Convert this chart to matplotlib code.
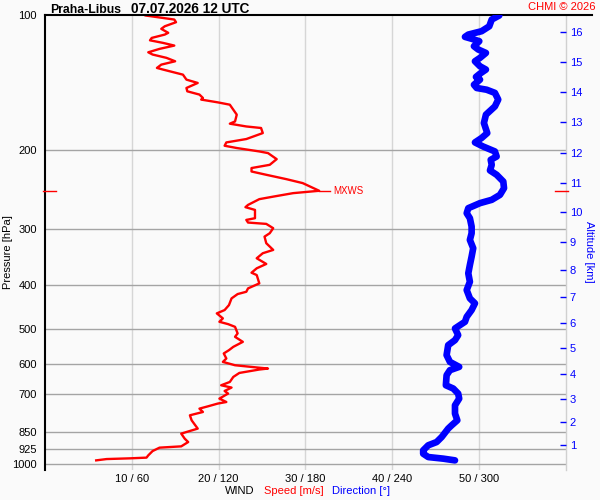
import matplotlib
matplotlib.use("Agg")
import matplotlib.pyplot as plt
from matplotlib.ticker import NullLocator

plt.rcParams["font.family"] = ["Liberation Sans", "DejaVu Sans"]

# perfil de velocidade do vento (hPa, m/s)
speed_p = [100, 102.1, 103.5, 105.7, 107.1, 109.3, 110.3, 112.2, 113.6, 115.1,
           116.7, 118.7, 120.8, 122.2, 124.3, 126.5, 128.7, 130.9, 132.0, 135.5,
           139.0, 141.4, 145.1, 147.6, 150.1, 152.7, 154.0, 156.2, 158.1, 162.2,
           166.4, 172.3, 174.3, 176.8, 178.2, 182.9, 188.6, 191.9, 195.2, 197.5,
           201.0, 202.7, 209.1, 215.3, 218.9, 222.8, 226.6, 231.7, 236.5, 246.0,
           249.0, 253.5, 256.8, 264.5, 267.6, 271.4, 283.2, 285.7, 289.6, 291.6,
           298.1, 305.9, 311.3, 322.0, 333.3, 339.0, 347.9, 358.2, 366.3, 374.7,
           379.2, 395.8, 406.1, 413.2, 418.1, 427.5, 442.5, 453.9, 461.7, 473.7,
           482.1, 487.9, 494.7, 511.7, 520.8, 534.4, 548.3, 557.7, 567.2, 582.1,
           592.4, 602.6, 609.5, 612.9, 616.0, 626.9, 639.9, 656.6, 667.9, 675.8,
           687.7, 697.0, 715.2, 727.8, 733.8, 744.0, 753.0, 766.1, 779.2, 799.6,
           834.4, 849.1, 856.2, 878.5, 894.0, 914.0, 920.1, 936.3, 957.3, 968.5,
           972.0, 975.6, 982.2]
speed_v = [11.6, 14.9, 15.1, 13.8, 13.4, 14.2, 13.8, 12.3, 12.1, 13.6,
           14.9, 13.2, 11.9, 12.4, 14.0, 15.0, 13.4, 12.9, 13.6, 15.9,
           16.3, 17.6, 16.3, 16.4, 17.8, 18.2, 18.0, 19.9, 21.3, 21.7,
           22.1, 21.9, 21.3, 23.2, 24.9, 25.1, 23.2, 20.9, 20.7, 22.1,
           24.7, 25.7, 26.7, 25.9, 23.8, 23.8, 25.5, 27.8, 29.7, 31.6,
           28.6, 26.3, 24.7, 23.4, 23.1, 24.2, 24.2, 23.2, 23.4, 25.5,
           26.3, 25.9, 25.3, 25.5, 26.3, 25.1, 24.4, 25.5, 24.4, 23.8,
           24.4, 24.7, 23.4, 23.2, 22.2, 21.5, 21.2, 20.7, 19.8, 20.5,
           20.1, 21.1, 21.9, 22.2, 21.9, 22.8, 21.7, 21.2, 20.6, 20.9,
           20.5, 21.9, 24.4, 25.7, 24.7, 22.4, 21.7, 21.3, 20.3, 21.5,
           20.7, 21.1, 20.1, 20.9, 19.9, 18.8, 17.8, 18.2, 16.7, 16.9,
           17.6, 16.3, 15.7, 16.1, 16.5, 15.7, 13.2, 12.4, 11.9, 11.7,
           9.8, 7.1, 5.9]

# perfil de direcao do vento (hPa, graus)
dir_p = [100, 102.1, 105.7, 108.4, 110.3, 111.6, 112.7, 114.1, 117.1, 119.1,
         121.2, 124.3, 126.5, 129.8, 132.0, 134.8, 137.1, 139.0, 142.7, 145.1,
         146.4, 148.8, 154.0, 159.5, 166.4, 173.7, 182.9, 187.6, 191.9, 196.0,
         201.0, 206.3, 209.8, 215.3, 221.6, 226.6, 234.6, 242.7, 251.2, 257.7,
         262.1, 269.0, 276.0, 283.2, 295.6, 305.9, 316.6, 330.4, 345.0, 360.1,
         375.8, 392.5, 409.6, 427.5, 438.5, 453.9, 469.9, 482.1, 498.8, 516.3,
         529.7, 543.6, 572.1, 592.4, 607.7, 618.1, 634.2, 667.9, 679.2, 697.0,
         715.2, 740.3, 772.4, 799.6, 820.4, 834.4, 871.2, 894.0, 909.0, 932.9,
         949.1, 965.6, 973.6, 982.2]
dir_v = [314.1, 308.9, 307.2, 301.9, 292.7, 290.4, 295.0, 300.3, 296.6, 299.6,
         304.9, 300.8, 297.3, 300.8, 304.9, 300.8, 298.0, 300.8, 296.6, 298.5,
         305.4, 311.1, 313.4, 311.1, 304.9, 303.5, 305.8, 301.9, 297.3, 303.0,
         311.1, 312.3, 308.2, 308.9, 307.7, 312.3, 316.9, 317.4, 314.6, 308.9,
         300.8, 292.7, 291.6, 293.8, 295.0, 295.0, 293.8, 296.1, 295.0, 293.8,
         292.7, 293.8, 291.6, 293.8, 297.3, 295.0, 291.6, 290.4, 283.5, 285.7,
         283.5, 278.8, 277.7, 280.0, 286.4, 280.0, 277.7, 277.2, 282.3, 285.7,
         286.4, 283.5, 283.5, 285.1, 281.2, 278.8, 274.3, 270.8, 265.0, 261.5,
         261.5, 265.0, 275.4, 283.5]

# eixos
p_ticks = [100, 200, 300, 400, 500, 600, 700, 850, 925, 1000]
x_ticks = [10, 20, 30, 40, 50]
x_labels = ["10 / 60", "20 / 120", "30 / 180", "40 / 240", "50 / 300"]
alt_km = [1, 2, 3, 4, 5, 6, 7, 8, 9, 10, 11, 12, 13, 14, 15, 16]
alt_p = [909.0, 806.5, 715.2, 628.8, 552.8, 486.0, 424.0, 369.5, 319.4,
         274.2, 236.5, 202.1, 173.1, 148.4, 126.9, 109.0]
mxws_p = 246.0
mxws_v = 31.6

bg = "#fafafa"
fig = plt.figure(figsize=(6, 5), dpi=100, facecolor=bg)
ax = fig.add_axes([0.075, 0.06, 0.8677, 0.909])
ax.set_facecolor(bg)
ax.set_yscale("log")
ax.set_ylim(1032, 100)
ax.set_xlim(0, 60)

# linhas de grade
for x in x_ticks:
    ax.axvline(x, color="#d6d6d6", lw=1, zorder=0.5)
for p in p_ticks[1:]:
    ax.axhline(p, color="#a4a4a4", lw=1, zorder=1)

ax.set_yticks(p_ticks)
ax.set_yticklabels([str(p) for p in p_ticks])
ax.yaxis.set_minor_locator(NullLocator())
ax.set_xticks(x_ticks)
ax.set_xticklabels(x_labels)
ax.tick_params(axis="y", length=0, pad=6, labelsize=8)
ax.tick_params(axis="x", length=0, pad=3, labelsize=8)

ax.spines["left"].set_color("black")
ax.spines["left"].set_linewidth(1.5)
ax.spines["right"].set_color("#d0d0d0")
ax.spines["right"].set_linewidth(1)
ax.spines["top"].set_visible(False)
ax.spines["bottom"].set_visible(False)
# linha superior que passa do eixo direito
ax.plot([0, 1.051], [100, 100], transform=ax.get_yaxis_transform(),
        color="black", lw=1.5, clip_on=False, zorder=5)

# velocidade
ax.plot(speed_v, speed_p, color="red", lw=1.7, zorder=3)

# MXWS
ax.plot([-0.004, 0.021], [mxws_p, mxws_p], transform=ax.get_yaxis_transform(),
        color="red", lw=1, clip_on=False, zorder=5)
ax.plot([0.98, 1.0044], [mxws_p, mxws_p], transform=ax.get_yaxis_transform(),
        color="red", lw=1, clip_on=False, zorder=5)
ax.plot([mxws_v, mxws_v + 1.2], [mxws_p, mxws_p], color="red", lw=1, zorder=3)
ax.text(mxws_v + 1.6, mxws_p, "MXWS", color="red", fontsize=7, va="center")

# direcao
ax_dir = ax.twiny()
ax_dir.set_xlim(0, 360)
ax_dir.axis("off")
ax_dir.plot(dir_v, dir_p, color="blue", lw=4.8, solid_capstyle="round",
            solid_joinstyle="round", zorder=3)

# altitude
ax_alt = ax.twinx()
ax_alt.set_yscale("log")
ax_alt.set_ylim(1032, 100)
ax_alt.set_yticks(alt_p)
ax_alt.set_yticklabels([str(a) for a in alt_km])
ax_alt.yaxis.set_minor_locator(NullLocator())
ax_alt.tick_params(axis="y", direction="in", length=4.2, width=1,
                   colors="blue", labelsize=8, pad=3)
for s in ax_alt.spines.values():
    s.set_visible(False)

# textos
fig.text(50 / 600, 1 - 12.7 / 500, "Praha-Libus", fontsize=8.8, weight="bold",
         va="baseline")
fig.text(131 / 600, 1 - 12.7 / 500, "07.07.2026 12 UTC", fontsize=9.8,
         weight="bold", va="baseline")
fig.text(596 / 600, 1 - 10.5 / 500, "CHMI © 2026", fontsize=8, color="red",
         ha="right", va="baseline")
fig.text(8 / 600, 1 - 252 / 500, "Pressure [hPa]", fontsize=8, rotation=90,
         ha="center", va="center")
fig.text(589 / 600, 1 - 252 / 500, "Altitude [km]", fontsize=8, rotation=270,
         ha="center", va="center", color="blue")
fig.text(225 / 600, 1 - 491 / 500, "WIND", fontsize=8, va="center")
fig.text(264 / 600, 1 - 491 / 500, "Speed [m/s]", fontsize=8, va="center",
         color="red")
fig.text(332 / 600, 1 - 491 / 500, "Direction [°]", fontsize=8, va="center",
         color="blue")

fig.savefig("out.png", dpi=100, facecolor=fig.get_facecolor())
plt.close(fig)
